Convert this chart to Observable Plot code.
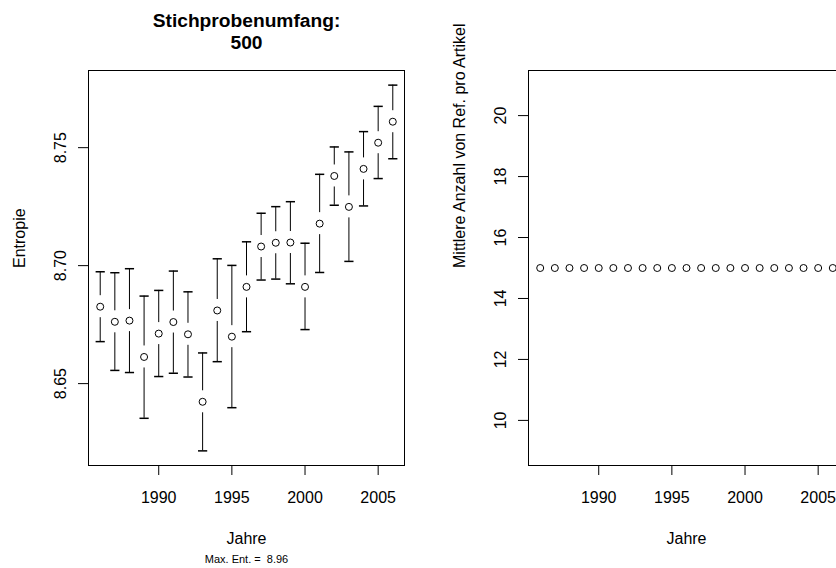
<!DOCTYPE html>
<html><head><meta charset="utf-8">
<script src="https://cdn.jsdelivr.net/npm/d3@7"></script>
<script src="https://cdn.jsdelivr.net/npm/@observablehq/plot@0.6"></script>
<style>
html,body{margin:0;padding:0;background:#fff;}
#wrap{position:relative;width:836px;height:568px;overflow:hidden;background:#fff;}
#left{position:absolute;left:0;top:0;width:418px;height:568px;}
#right{position:absolute;left:418px;top:0;width:440px;height:568px;}
svg{font-family:"Liberation Sans",Arial,Helvetica,sans-serif;max-width:none !important;}
svg text{white-space:pre;}
</style></head><body>
<div id="wrap"><div id="left"></div><div id="right"></div></div>
<script>
// ---- data ----
const years = [1986,1987,1988,1989,1990,1991,1992,1993,1994,1995,1996,1997,1998,1999,2000,2001,2002,2003,2004,2005,2006];
const entropyMean  = [8.6826,8.6762,8.6767,8.6613,8.6712,8.6761,8.6709,8.6423,8.6810,8.6699,8.6910,8.7081,8.7097,8.7098,8.6910,8.7178,8.7380,8.7249,8.7410,8.7521,8.7610];
const entropyUpper = [8.6974,8.6970,8.6987,8.6871,8.6895,8.6977,8.6889,8.6630,8.7029,8.7001,8.7101,8.7222,8.7250,8.7271,8.7095,8.7387,8.7503,8.7482,8.7568,8.7675,8.7765];
const entropyLower = [8.6678,8.6556,8.6547,8.6353,8.6530,8.6544,8.6528,8.6215,8.6593,8.6398,8.6720,8.6939,8.6943,8.6923,8.6729,8.6971,8.7256,8.7018,8.7253,8.7369,8.7453];
const refsPerArticle = [15,15,15,15,15,15,15,15,15,15,15,15,15,15,15,15,15,15,15,15,15];
const xTicks = [1990,1995,2000,2005];
const yTicksLeft = [8.65,8.70,8.75];
const yTicksRight = [10,12,14,16,18,20];
const titleText = "Stichprobenumfang:\n500";
const xLabel = "Jahre";
const yLabelLeft = "Entropie";
const yLabelRight = "Mittlere Anzahl von Ref. pro Artikel";
const subText = "Max. Ent. =  8.96";

const rows = years.map((y, i) => ({year: y, mean: entropyMean[i], upper: entropyUpper[i], lower: entropyLower[i]}));
const rows2 = years.map((y, i) => ({year: y, refs: refsPerArticle[i]}));

// R-style 4% expansion
const xLo = d3.min(years), xHi = d3.max(years), xPad = 0.04 * (xHi - xLo);
const yLo = d3.min(entropyLower), yHi = d3.max(entropyUpper), yPad = 0.04 * (yHi - yLo);

const capSymbol = {draw(ctx) { ctx.moveTo(-4.6, 0); ctx.lineTo(4.6, 0); }};
const font = {fontSize: 16};

const left = Plot.plot({
  width: 418, height: 568,
  marginLeft: 88, marginRight: 14, marginTop: 70, marginBottom: 103,
  style: {fontSize: "16px", fontFamily: '"Liberation Sans",Arial,sans-serif', background: "white"},
  x: {domain: [xLo - xPad, xHi + xPad]},
  y: {domain: [yLo - yPad, yHi + yPad]},
  marks: [
    Plot.frame({stroke: "black"}),
    Plot.ruleX(rows, {x: "year", y1: "upper", y2: "mean", insetBottom: 11, stroke: "black"}),
    Plot.ruleX(rows, {x: "year", y1: "mean", y2: "lower", insetTop: 11, stroke: "black"}),
    Plot.dot(rows, {x: "year", y: "upper", symbol: capSymbol, stroke: "black", fill: "none"}),
    Plot.dot(rows, {x: "year", y: "lower", symbol: capSymbol, stroke: "black", fill: "none"}),
    Plot.dot(rows, {x: "year", y: "mean", r: 3.5, stroke: "black", fill: "none", strokeWidth: 1}),
    Plot.axisX(xTicks, {tickSize: 10, tickPadding: 15.8, label: null, tickFormat: d => String(d), ...font}),
    Plot.axisY(yTicksLeft, {tickSize: 10, tickRotate: -90, tickPadding: 13, label: null, tickFormat: d3.format(".2f"), ...font}),
    Plot.text([titleText], {frameAnchor: "top", dy: -40, text: d => d, fontWeight: "bold", fontSize: 19.2, lineHeight: 1.15, lineAnchor: "middle"}),
    Plot.text([xLabel], {frameAnchor: "bottom", dy: 73, text: d => d, lineAnchor: "middle", ...font}),
    Plot.text([subText], {frameAnchor: "bottom", dy: 93.5, text: d => d, lineAnchor: "middle", fontSize: 11}),
    Plot.text([yLabelLeft], {frameAnchor: "left", dx: -68.8, rotate: -90, text: d => d, lineAnchor: "middle", ...font})
  ]
});
document.getElementById("left").appendChild(left);

const right = Plot.plot({
  width: 440, height: 568,
  marginLeft: 110, marginRight: 14, marginTop: 70, marginBottom: 103,
  style: {fontSize: "16px", fontFamily: '"Liberation Sans",Arial,sans-serif', background: "white", maxWidth: "none"},
  x: {domain: [xLo - xPad, xHi + xPad]},
  y: {domain: [8.52, 21.48]},
  marks: [
    Plot.frame({stroke: "black"}),
    Plot.dot(rows2, {x: "year", y: "refs", r: 3.5, stroke: "black", fill: "none", strokeWidth: 1}),
    Plot.axisX(xTicks, {tickSize: 10, tickPadding: 15.8, label: null, tickFormat: d => String(d), ...font}),
    Plot.axisY(yTicksRight, {tickSize: 10, tickRotate: -90, tickPadding: 13, label: null, tickFormat: d => String(d), ...font}),
    Plot.text([xLabel], {frameAnchor: "bottom", dy: 73, text: d => d, lineAnchor: "middle", ...font}),
    Plot.text([yLabelRight], {frameAnchor: "left", dx: -68.8, rotate: -90, text: d => d, lineAnchor: "middle", ...font})
  ]
});
document.getElementById("right").appendChild(right);
</script>
</body></html>
